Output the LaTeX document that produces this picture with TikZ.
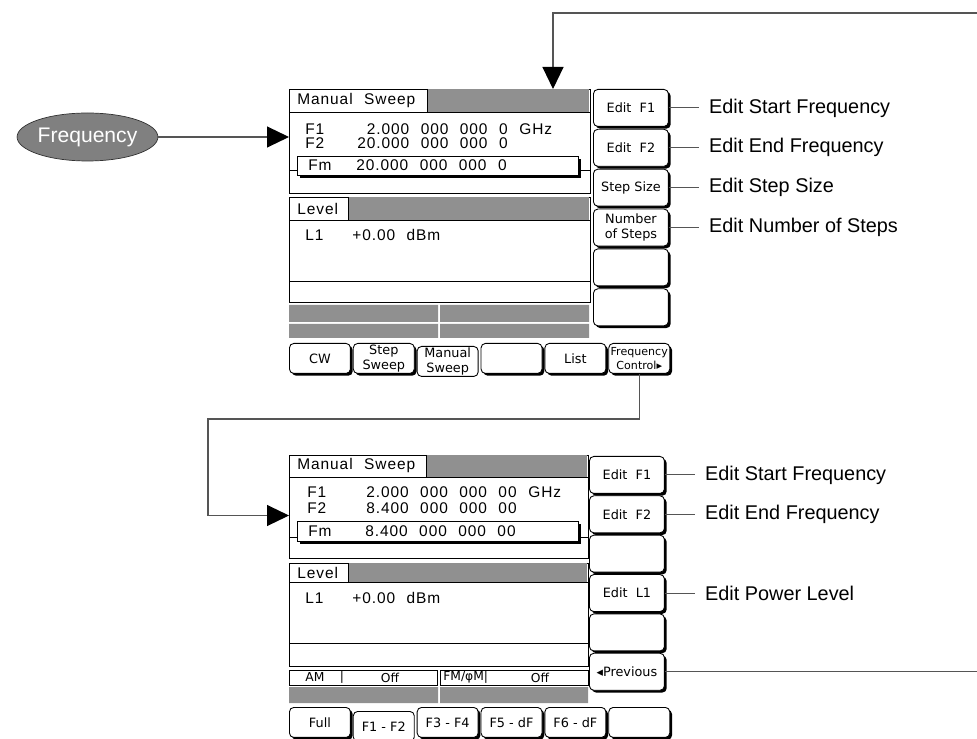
\documentclass[tikz,border=0pt]{standalone}
\usepackage{fontspec}
\setmainfont{Liberation Sans}
\newfontfamily\lcdfont[LetterSpace=6,WordSpace=2.2]{Liberation Sans}
\newfontfamily\keyfont{DejaVu Sans}
\usetikzlibrary{arrows.meta,positioning,calc,shapes.geometric,shadows}
\definecolor{OvalGrey}{HTML}{808080}
\definecolor{HatchGrey}{HTML}{909090}
\definecolor{LineGrey}{HTML}{555555}

\begin{document}
\begin{tikzpicture}[
    x=0.02cm, y=-0.02cm,
    panel/.style={draw, line width=0.6pt, anchor=north west, inner sep=0pt},
    hatch/.style={fill=HatchGrey},
    lcd/.style={font=\lcdfont\fontsize{8.8}{10}\selectfont, inner sep=0pt},
    basekey/.style={draw, fill=white, rounded corners=2.5pt, line width=0.5pt, inner sep=0pt, align=center, font=\keyfont\fontsize{7.3}{8.6}\selectfont},
    softkey/.style={basekey, minimum width=1.5cm, minimum height=0.74cm, drop shadow={shadow xshift=1.3pt, shadow yshift=-1.3pt, fill=black, opacity=1}},
    tabkey/.style={softkey, minimum width=1.22cm, minimum height=0.6cm},
    tabkeyon/.style={basekey, minimum width=1.22cm, minimum height=0.6cm},
    status/.style={font=\keyfont\fontsize{7}{8}\selectfont, inner sep=0pt},
    note/.style={font=\fontsize{11.3}{13}\selectfont, inner xsep=0.2cm, inner ysep=0pt},
    link/.style={draw=LineGrey, line width=0.6pt},
    bigarrow/.style={link, -{Triangle[length=0.44cm, width=0.42cm, color=black]}}
  ]
    \useasboundingbox (0,0) rectangle (977,739);

    % entry key
    \node[ellipse, draw=black!80, fill=OvalGrey, text=white, minimum width=2.5cm, minimum height=0.96cm, inner sep=0pt, font=\fontsize{12}{14}\selectfont] (freq) at (87.5,137) {Frequency};

    % upper screen: frequency window
    \node[panel, minimum width=6.02cm, minimum height=2.08cm] (sw1) at (289,89) {};
    \fill[hatch] (427,89) rectangle (589,112);
    \draw (289,112) -- (590,112) (427,89) -- (427,112);
    \node[lcd, anchor=west] (mode1) at (297,100.5) {Manual Sweep};
    \node[lcd, anchor=west] (f1name1) at (305,129) {F1};
    \node[lcd, anchor=east] (f1val1) at (508,129) {2.000 000 000 0};
    \node[lcd, right=0.22cm of f1val1] (unit1) {GHz};
    \node[lcd, anchor=west] (f2name1) at (305,143.5) {F2};
    \node[lcd, anchor=east] (f2val1) at (508,143.5) {20.000 000 000 0};
    \draw (289,170) -- (590,170);
    \node[panel, fill=white, minimum width=5.62cm, minimum height=0.38cm, drop shadow={shadow xshift=1.3pt, shadow yshift=-1.3pt, fill=black, opacity=1}] (fm1) at (297,156) {};
    \node[lcd, anchor=west] (fmname1) at (308,165.5) {Fm};
    \node[lcd, anchor=east] (fmval1) at (507,165.5) {20.000 000 000 0};

    % upper screen: level window
    \node[panel, minimum width=6.02cm, minimum height=2.1cm] (lv1) at (289,197) {};
    \fill[hatch] (348,197) rectangle (589,220);
    \draw (289,220) -- (590,220) (348,197) -- (348,220);
    \node[lcd, anchor=west] (lvt1) at (297,208.5) {Level};
    \node[lcd, anchor=west] (l1name1) at (305,235) {L1};
    \node[lcd, anchor=west] (l1val1) at (352,235) {+0.00 dBm};
    \draw (289,281) -- (590,281);
    \fill[hatch] (289,305) rectangle (438,322) (440,305) rectangle (589,322)
                 (289,324) rectangle (438,338) (440,324) rectangle (589,338);

    % upper screen: bottom keys
    \node[tabkey, anchor=north west] (cw1) at (289,343) {CW};
    \node[tabkey, right=0.04cm of cw1] (stp1) {Step\\Sweep};
    \node[tabkeyon, right=0.04cm of stp1, yshift=-0.06cm] (man1) {Manual\\Sweep};
    \node[tabkey, right=0.04cm of man1, yshift=0.06cm] (blk1) {};
    \node[tabkey, right=0.04cm of blk1] (lst1) {List};
    \node[tabkey, right=0.04cm of lst1, font=\keyfont\fontsize{6.3}{7.6}\selectfont] (fc1) {Frequency\\Control▸};

    % upper screen: side keys
    \node[softkey, anchor=north west] (ef1) at (593,89) {Edit\ \ F1};
    \node[softkey, below=0.04cm of ef1] (ef2) {Edit\ \ F2};
    \node[softkey, below=0.04cm of ef2] (ss1) {Step Size};
    \node[softkey, below=0.04cm of ss1] (ns1) {Number\\of Steps};
    \node[softkey, below=0.04cm of ns1] (sb1) {};
    \node[softkey, below=0.04cm of sb1] (sb2) {};

    \node[note, right=0.6cm of ef1] (n1) {Edit Start Frequency};
    \node[note, right=0.6cm of ef2] (n2) {Edit End Frequency};
    \node[note, right=0.6cm of ss1] (n3) {Edit Step Size};
    \node[note, right=0.6cm of ns1] (n4) {Edit Number of Steps};
    \draw[link] (ef1) -- (n1);
    \draw[link] (ef2) -- (n2);
    \draw[link] (ss1) -- (n3);
    \draw[link] (ns1) -- (n4);

    % lower screen: frequency window
    \node[panel, minimum width=5.98cm, minimum height=2.06cm] (sw2) at (289,455) {};
    \fill[hatch] (426,455) rectangle (587,477);
    \draw (289,477) -- (588,477) (426,455) -- (426,477);
    \node[lcd, anchor=west] (mode2) at (297,466) {Manual Sweep};
    \node[lcd, anchor=west] (f1name2) at (307,492) {F1};
    \node[lcd, anchor=east] (f1val2) at (517,492) {2.000 000 000 00};
    \node[lcd, right=0.22cm of f1val2] (unit2) {GHz};
    \node[lcd, anchor=west] (f2name2) at (307,508) {F2};
    \node[lcd, anchor=east] (f2val2) at (517,508) {8.400 000 000 00};
    \draw (289,537) -- (588,537);
    \node[panel, fill=white, minimum width=5.62cm, minimum height=0.4cm, drop shadow={shadow xshift=1.3pt, shadow yshift=-1.3pt, fill=black, opacity=1}] (fm2) at (297,521) {};
    \node[lcd, anchor=west] (fmname2) at (308,531) {Fm};
    \node[lcd, anchor=east] (fmval2) at (516,531) {8.400 000 000 00};

    % lower screen: level window
    \node[panel, minimum width=5.98cm, minimum height=2.06cm] (lv2) at (289,563) {};
    \fill[hatch] (348,563) rectangle (587,582);
    \draw (289,582) -- (588,582) (348,563) -- (348,582);
    \node[lcd, anchor=west] (lvt2) at (297,572.5) {Level};
    \node[lcd, anchor=west] (l1name2) at (305,598) {L1};
    \node[lcd, anchor=west] (l1val2) at (352,598) {+0.00 dBm};
    \draw (289,643) -- (588,643);

    % lower screen: modulation status
    \draw[line width=0.5pt] (289,670) rectangle (437,685) (440,670) rectangle (588,685);
    \node[status, anchor=west] (am2) at (305,677.5) {AM};
    \node[status] (bar2) at (342,677.5) {|};
    \node[status] (amoff2) at (390,677.5) {Off};
    \node[status, anchor=west] (fm2s) at (443,677.5) {FM/φM|};
    \node[status] (fmoff2) at (540,677.5) {Off};
    \fill[hatch] (289,687) rectangle (438,703) (440,687) rectangle (588,703);

    % lower screen: bottom keys
    \node[tabkey, anchor=north west] (full2) at (289,707) {Full};
    \node[tabkeyon, right=0.04cm of full2, yshift=-0.08cm] (f12) {F1 - F2};
    \node[tabkey, right=0.04cm of f12, yshift=0.08cm] (f34) {F3 - F4};
    \node[tabkey, right=0.04cm of f34] (f5d) {F5 - dF};
    \node[tabkey, right=0.04cm of f5d] (f6d) {F6 - dF};
    \node[tabkey, right=0.04cm of f6d] (blk2) {};

    % lower screen: side keys
    \node[softkey, anchor=north west] (ea1) at (589,456) {Edit\ \ F1};
    \node[softkey, below=0.03cm of ea1] (ea2) {Edit\ \ F2};
    \node[softkey, below=0.03cm of ea2] (sb3) {};
    \node[softkey, below=0.03cm of sb3] (el1) {Edit\ \ L1};
    \node[softkey, below=0.03cm of el1] (sb4) {};
    \node[softkey, below=0.03cm of sb4] (prev2) {◂Previous};

    \node[note, right=0.6cm of ea1] (n5) {Edit Start Frequency};
    \node[note, right=0.6cm of ea2] (n6) {Edit End Frequency};
    \node[note, right=0.6cm of el1] (n7) {Edit Power Level};
    \draw[link] (ea1) -- (n5);
    \draw[link] (ea2) -- (n6);
    \draw[link] (el1) -- (n7);

    % flow between the menus
    \coordinate (ret) at (977,13);
    \coordinate (bend) at (208,419);
    \draw[bigarrow] (freq) -- (freq -| sw1.west);
    \draw[bigarrow] (ret) -| ($(sw1.north west)+(264,0)$);
    \draw[bigarrow] (fc1.south) |- (bend) |- ([yshift=-0.17cm]sw2.west);
    \draw[link] (prev2) -- (prev2 -| ret);
  \end{tikzpicture}
\end{document}
